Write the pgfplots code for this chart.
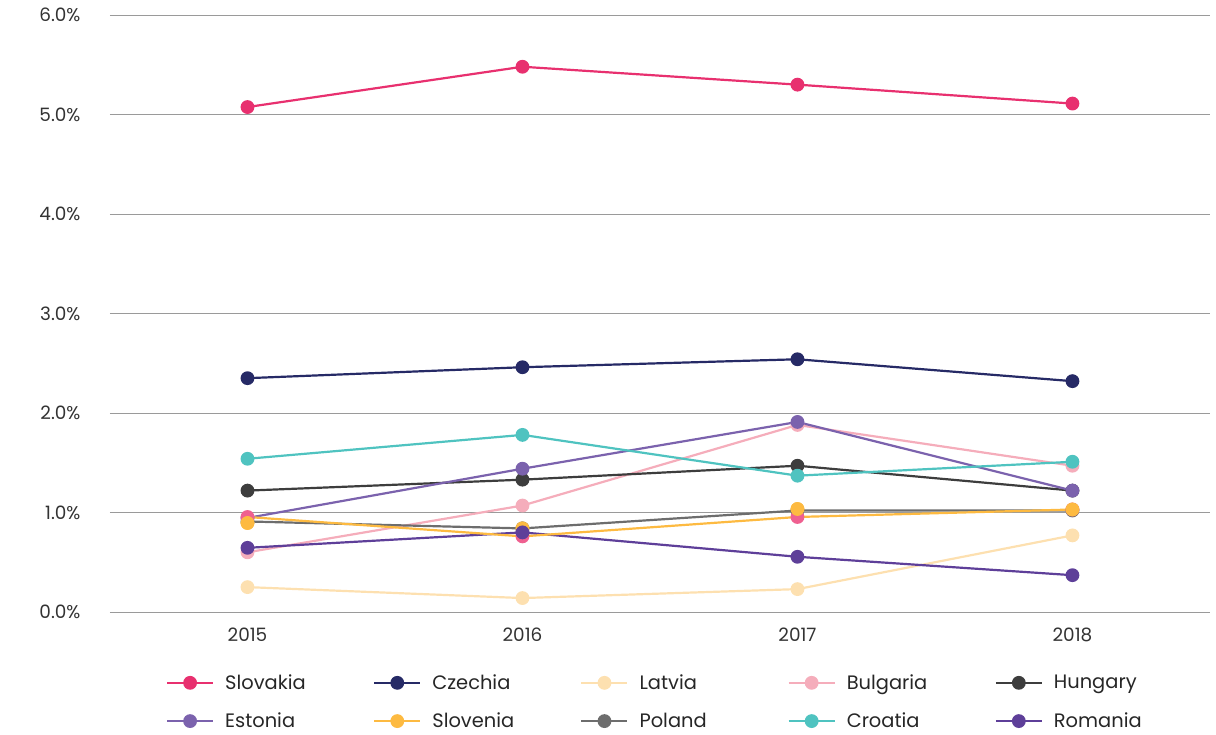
\documentclass[border=0pt]{standalone}
\usepackage{pgfplots}
\pgfplotsset{compat=1.18}
\usepackage{fontspec}
\setmainfont{Poppins}
\definecolor{cSlovakia}{HTML}{E8306F}
\definecolor{cCzechia}{HTML}{262A66}
\definecolor{cLatvia}{HTML}{FDE0B0}
\definecolor{cBulgaria}{HTML}{F5ADBB}
\definecolor{cHungary}{HTML}{3D3D3D}
\definecolor{cEstonia}{HTML}{7B62AD}
\definecolor{cSlovenia}{HTML}{FDBA41}
\definecolor{cPoland}{HTML}{6D6D6D}
\definecolor{cCroatia}{HTML}{4FC3C0}
\definecolor{cRomania}{HTML}{5E3F99}
\definecolor{cExtra}{HTML}{EF6090}
\definecolor{gridc}{HTML}{9A9A9A}
\newcommand{\legbox}[1]{\makebox[155bp][l]{\hspace{9bp}#1}}
\begin{document}
\begin{tikzpicture}
\begin{axis}[
  scale only axis,
  width=1100bp, height=597bp,
  xmin=-0.5, xmax=3.5, ymin=0, ymax=6,
  axis line style={draw=none},
  xtick={0,1,2,3}, xticklabels={2015,2016,2017,2018},
  ytick={0,1,2,3,4,5,6},
  yticklabels={0.0\%,1.0\%,2.0\%,3.0\%,4.0\%,5.0\%,6.0\%},
  ymajorgrids, major grid style={gridc, line width=0.8bp},
  major tick length=0pt,
  tick label style={font=\fontsize{18.5}{20}\selectfont, text=black!80},
  yticklabel style={xshift=-26bp},
  xticklabel style={yshift=-12bp},
  every axis plot/.append style={line width=2.2bp, mark=*, mark size=5.8bp, mark options={solid}},
  legend columns=5,
  legend style={at={(0.5,-0.098)}, anchor=north, xshift=24bp, draw=none, fill=none,
    font=\fontsize{19.5}{22}\selectfont, text=black!85,
    row sep=18bp},
  legend image code/.code={\draw[mark repeat=2,mark phase=2] plot coordinates {(0bp,0bp)(23bp,0bp)(46bp,0bp)};},
  clip=false,
]
\addplot[color=cSlovakia] coordinates {(0,5.075) (1,5.48) (2,5.30) (3,5.11)};
\addlegendentry{\legbox{Slovakia}}
\addplot[color=cCzechia] coordinates {(0,2.35) (1,2.46) (2,2.54) (3,2.32)};
\addlegendentry{\legbox{Czechia}}
\addplot[color=cLatvia] coordinates {(0,0.25) (1,0.14) (2,0.23) (3,0.77)};
\addlegendentry{\legbox{Latvia}}
\addplot[color=cBulgaria] coordinates {(0,0.60) (1,1.07) (2,1.88) (3,1.47)};
\addlegendentry{\legbox{Bulgaria}}
\addplot[color=cHungary] coordinates {(0,1.22) (1,1.33) (2,1.47) (3,1.22)};
\addlegendentry{\legbox{Hungary}}
\addplot[color=cEstonia] coordinates {(0,0.945) (1,1.44) (2,1.91) (3,1.22)};
\addlegendentry{\legbox{Estonia}}
\addplot[color=cSlovenia, draw=none, mark options={fill=cSlovenia, draw=cSlovenia}, legend image code/.code={\draw[cSlovenia, line width=2.2bp, mark repeat=2,mark phase=2] plot coordinates {(0bp,0bp)(23bp,0bp)(46bp,0bp)};}] coordinates {(0,0.895) (1,0.84) (2,1.035) (3,1.03)};
\addlegendentry{\legbox{Slovenia}}
\addplot[color=cPoland] coordinates {(0,0.91) (1,0.84) (2,1.02) (3,1.02)};
\addlegendentry{\legbox{Poland}}
\addplot[color=cCroatia] coordinates {(0,1.54) (1,1.78) (2,1.37) (3,1.51)};
\addlegendentry{\legbox{Croatia}}
\addplot[color=cRomania] coordinates {(0,0.645) (1,0.80) (2,0.555) (3,0.37)};
\addlegendentry{\legbox{Romania}}
\addplot[forget plot, color=cSlovenia, mark options={fill=cExtra, draw=cExtra}] coordinates {(0,0.955) (1,0.76) (2,0.955) (3,1.03)};
\addplot[forget plot, color=cSlovenia, only marks] coordinates {(0,0.895) (1,0.84) (2,1.035) (3,1.03)};
\addplot[forget plot, color=cRomania, only marks] coordinates {(1,0.80)};
\end{axis}
\pgfresetboundingbox
\path (current axis.south west) ++(-110bp,-123bp) rectangle ++(1216bp,735bp);
\end{tikzpicture}
\end{document}
